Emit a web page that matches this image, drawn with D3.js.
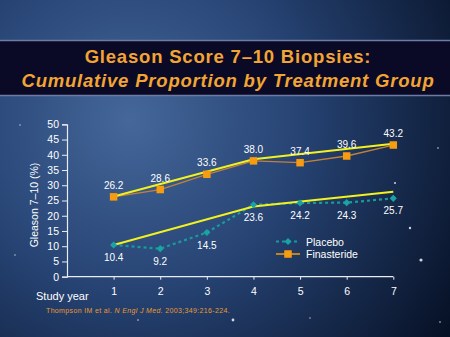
<!DOCTYPE html>
<html>
<head>
<meta charset="utf-8">
<script src="https://cdn.jsdelivr.net/npm/d3@7"></script>
<style>
  html, body { margin: 0; padding: 0; background: #0d1d3d; }
  svg { display: block; font-family: "Liberation Sans", Arial, sans-serif; }
</style>
</head>
<body>
<svg id="chart" width="450" height="337"></svg>
<script>
// data
const years = [1, 2, 3, 4, 5, 6, 7];
const placebo = [10.4, 9.2, 14.5, 23.6, 24.2, 24.3, 25.7];
const finasteride = [26.2, 28.6, 33.6, 38.0, 37.4, 39.6, 43.2];
// yellow fitted lines (bend at year 4)
const trendYears = [1, 4, 7];
const placeboTrend = [10.4, 23.0, 27.9];
const finasterideTrend = [26.3, 38.5, 43.6];
const yTicks = [0, 5, 10, 15, 20, 25, 30, 35, 40, 45, 50];

const svg = d3.select('#chart');

// BACKGROUND
const defs = svg.append('defs');
const bg = defs.append('radialGradient').attr('id', 'bg')
  .attr('gradientUnits', 'userSpaceOnUse')
  .attr('cx', 130).attr('cy', 120).attr('r', 380);
bg.append('stop').attr('offset', '0%').attr('stop-color', '#45679a');
bg.append('stop').attr('offset', '45%').attr('stop-color', '#264373');
bg.append('stop').attr('offset', '100%').attr('stop-color', '#071126');
svg.append('rect').attr('width', 450).attr('height', 337).attr('fill', 'url(#bg)');

// a few stars
const stars = [[233, 320, 1.4], [410, 228, 1.2], [421, 260, 1.6], [395, 183, 1], [438, 148, 0.8],
               [20, 125, 0.7], [15, 255, 0.7], [138, 320, 0.8], [310, 318, 0.7], [440, 322, 0.8]];
svg.append('g').selectAll('circle').data(stars).join('circle')
  .attr('cx', d => d[0]).attr('cy', d => d[1]).attr('r', d => d[2])
  .attr('fill', '#ffffff').attr('opacity', 0.8);

// TITLE BAND
svg.append('rect').attr('x', 0).attr('y', 40).attr('width', 450).attr('height', 56)
  .attr('fill', '#0b0a26');
svg.append('line').attr('x1', 0).attr('x2', 450).attr('y1', 40.5).attr('y2', 40.5)
  .attr('stroke', '#6b7ba3').attr('stroke-width', 1.5);
svg.append('line').attr('x1', 0).attr('x2', 450).attr('y1', 95.5).attr('y2', 95.5)
  .attr('stroke', '#6b7ba3').attr('stroke-width', 1.5);
svg.append('text').attr('x', 228).attr('y', 63).attr('text-anchor', 'middle')
  .attr('fill', '#f3a533').attr('font-size', '18.5px').attr('font-weight', 'bold')
  .attr('letter-spacing', '0.8px')
  .text('Gleason Score 7–10 Biopsies:');
svg.append('text').attr('x', 228).attr('y', 87).attr('text-anchor', 'middle')
  .attr('fill', '#f3a533').attr('font-size', '18.5px').attr('font-weight', 'bold')
  .attr('font-style', 'italic').attr('letter-spacing', '0.8px')
  .text('Cumulative Proportion by Treatment Group');

// SCALES
const x = d3.scaleLinear().domain([0, 7]).range([67, 393.3]);
const y = d3.scaleLinear().domain([0, 50]).range([276.7, 124.3]);

// AXES
const yAxis = svg.append('g').attr('transform', 'translate(67,0)')
  .call(d3.axisLeft(y).tickValues(yTicks).tickSize(5).tickPadding(3));
const xAxis = svg.append('g').attr('transform', 'translate(0,276.7)')
  .call(d3.axisBottom(x).tickValues(years).tickFormat(d3.format('d')).tickSize(3).tickPadding(8));
[yAxis, xAxis].forEach(a => {
  a.select('.domain').attr('stroke', '#e8ecf4').attr('stroke-width', 1.2);
  a.selectAll('.tick line').attr('stroke', '#e8ecf4');
  a.selectAll('.tick text').attr('fill', '#ffffff').attr('font-size', '10.5px')
    .attr('font-family', '"Liberation Sans", Arial, sans-serif');
});
xAxis.select('.domain').attr('d', `M67,0H${x(7)}`);

svg.append('text').attr('transform', 'translate(38,205) rotate(-90)')
  .attr('text-anchor', 'middle').attr('fill', '#ffffff').attr('font-size', '10.5px')
  .text('Gleason 7–10 (%)');
svg.append('text').attr('x', 36).attr('y', 300).attr('fill', '#ffffff').attr('font-size', '11px')
  .text('Study year');

// LINES
const line = d3.line().x(d => x(d[0])).y(d => y(d[1]));
const pl = years.map((yr, i) => [yr, placebo[i]]);
const fi = years.map((yr, i) => [yr, finasteride[i]]);

svg.append('path').datum(pl).attr('d', line).attr('fill', 'none')
  .attr('stroke', '#179c9c').attr('stroke-width', 2.2).attr('stroke-dasharray', '3,3');
svg.append('path').datum(fi).attr('d', line).attr('fill', 'none')
  .attr('stroke', '#c4803a').attr('stroke-width', 1.3);

svg.append('path').datum(trendYears.map((yr, i) => [yr, placeboTrend[i]])).attr('d', line)
  .attr('fill', 'none').attr('stroke', '#f2f21e').attr('stroke-width', 2);
svg.append('path').datum(trendYears.map((yr, i) => [yr, finasterideTrend[i]])).attr('d', line)
  .attr('fill', 'none').attr('stroke', '#f2f21e').attr('stroke-width', 2);

// MARKERS
svg.append('g').selectAll('path').data(pl).join('path')
  .attr('transform', d => `translate(${x(d[0])},${y(d[1])})`)
  .attr('d', d3.symbol(d3.symbolDiamond2, 32))
  .attr('fill', '#1aa3a3');
svg.append('g').selectAll('rect').data(fi).join('rect')
  .attr('x', d => x(d[0]) - 3.75).attr('y', d => y(d[1]) - 3.75)
  .attr('width', 7.5).attr('height', 7.5).attr('fill', '#f59c10');

// VALUE LABELS
svg.append('g').selectAll('text').data(fi).join('text')
  .attr('x', d => x(d[0])).attr('y', d => y(d[1]) - 8)
  .attr('text-anchor', 'middle').attr('fill', '#ffffff').attr('font-size', '10px')
  .text(d => d[1].toFixed(1));
svg.append('g').selectAll('text').data(pl).join('text')
  .attr('x', d => x(d[0])).attr('y', d => y(d[1]) + 16)
  .attr('text-anchor', 'middle').attr('fill', '#ffffff').attr('font-size', '10px')
  .text(d => d[1].toFixed(1));

// LEGEND
const legend = svg.append('g').attr('transform', 'translate(276,241.5)');
legend.append('line').attr('x1', 0).attr('x2', 24).attr('stroke', '#179c9c')
  .attr('stroke-width', 2).attr('stroke-dasharray', '3,3');
legend.append('path').attr('transform', 'translate(12,0)')
  .attr('d', d3.symbol(d3.symbolDiamond2, 32)).attr('fill', '#1aa3a3');
legend.append('text').attr('x', 30).attr('y', 4).attr('fill', '#ffffff')
  .attr('font-size', '10.5px').text('Placebo');
legend.append('line').attr('x1', 0).attr('x2', 24).attr('y1', 12.5).attr('y2', 12.5)
  .attr('stroke', '#f59c10').attr('stroke-width', 1.5);
legend.append('rect').attr('x', 8.25).attr('y', 8.75).attr('width', 7.5).attr('height', 7.5)
  .attr('fill', '#f59c10');
legend.append('text').attr('x', 30).attr('y', 16.5).attr('fill', '#ffffff')
  .attr('font-size', '10.5px').text('Finasteride');

// CITATION
const cite = svg.append('text').attr('x', 46).attr('y', 313).attr('fill', '#e89a30')
  .attr('font-size', '7px').attr('letter-spacing', '0.35px');
cite.append('tspan').text('Thompson IM et al. ');
cite.append('tspan').attr('font-style', 'italic').text('N Engl J Med.');
cite.append('tspan').text(' 2003;349:216-224.');
</script>
</body>
</html>
